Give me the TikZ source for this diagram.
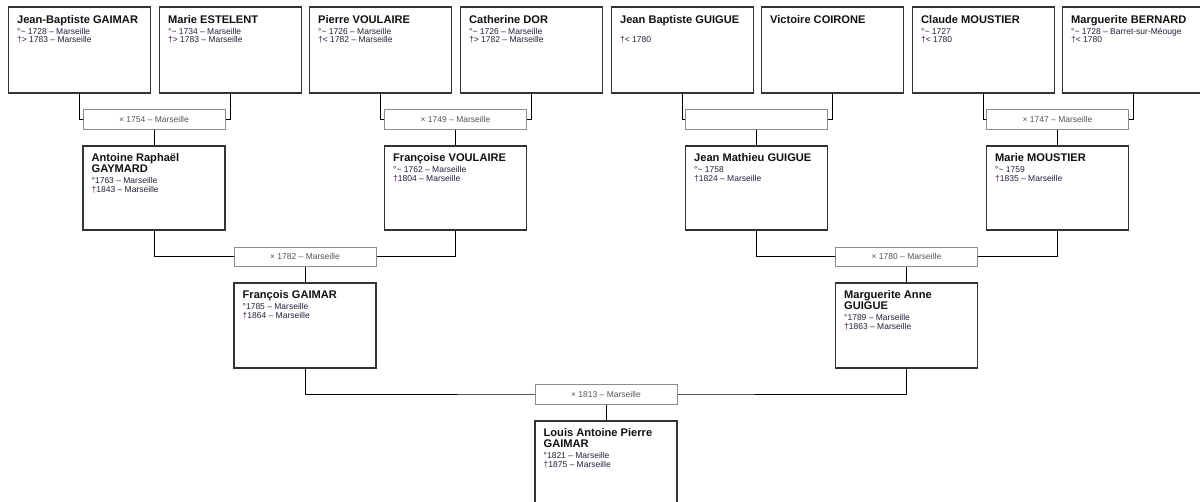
\documentclass[tikz,border=0pt]{standalone}
\usepackage{fontspec}
\setmainfont{Liberation Sans}
\definecolor{boxline}{HTML}{333333}
\definecolor{marline}{HTML}{8C8C8C}
\definecolor{martext}{HTML}{555555}
\definecolor{datetext}{HTML}{22223A}
\definecolor{dagcol}{HTML}{4A1A4A}
\definecolor{nametext}{HTML}{111111}
\newcommand\dg{{\color{dagcol}†}}
\newcommand\ap{\textasciitilde}
\newcommand\nm[1]{{\color{nametext}\fontsize{11.1}{8.5}\selectfont\bfseries #1}}
\tikzset{
 person/.style={draw=boxline, line width=1.1pt, fill=white, minimum width=142pt, minimum height=85pt, inner sep=0pt},
 toprow/.style={person, minimum height=86pt},
 marbox/.style={draw=marline, line width=0.9pt, fill=white, minimum width=142pt, minimum height=20pt, inner sep=0pt, font=\fontsize{8.5}{8.5}\selectfont, text=martext},
 info/.style={anchor=north west, inner sep=0pt, align=left, text=datetext, font=\fontsize{8.5}{8.5}\selectfont},
 link/.style={draw=black, line width=1pt},
}
\begin{document}
\lineskiplimit=-100pt\relax
\lineskip=0pt\relax
\begin{tikzpicture}[x=1pt,y=-1pt]
\useasboundingbox (0,0) rectangle (1200,501);
\fill[white] (0,0) rectangle (1200,501);
% generation 1
\node[toprow] (p1) at (79.5,50) {};
\node[toprow] (p2) at (230.5,50) {};
\node[toprow] (p3) at (380.5,50) {};
\node[toprow] (p4) at (531.5,50) {};
\node[toprow] (p5) at (682.5,50) {};
\node[toprow] (p6) at (832.5,50) {};
\node[toprow] (p7) at (983.5,50) {};
\node[toprow] (p8) at (1133.5,50) {};
% generation 2
\node[person, minimum height=84pt] (q1) at (154,188) {};
\node[person, minimum height=84pt] (q2) at (455.5,188) {};
\node[person, minimum height=84pt] (q3) at (756.5,188) {};
\node[person, minimum height=84pt] (q4) at (1057.5,188) {};
% generation 3
\node[person] (r1) at (305,325.5) {};
\node[person] (r2) at (906.5,325.5) {};
% generation 4
\node[person] (s1) at (606,463.5) {};
% marriage centres
\coordinate (c1) at (154,119);
\coordinate (c2) at (455.5,119);
\coordinate (c3) at (756.5,119);
\coordinate (c4) at (1057.5,119);
\coordinate (c5) at (305,256.5);
\coordinate (c6) at (906.5,256.5);
\coordinate (c7) at (606,394);
% connectors
\draw[link] (p1.south) |- (c1) -| (p2.south);
\draw[link] (p3.south) |- (c2) -| (p4.south);
\draw[link] (p5.south) |- (c3) -| (p6.south);
\draw[link] (p7.south) |- (c4) -| (p8.south);
\draw[link] (c1) -- (q1.north);
\draw[link] (c2) -- (q2.north);
\draw[link] (c3) -- (q3.north);
\draw[link] (c4) -- (q4.north);
\draw[link] (q1.south) |- (c5) -| (q2.south);
\draw[link] (q3.south) |- (c6) -| (q4.south);
\draw[link] (c5) -- (r1.north);
\draw[link] (c6) -- (r2.north);
\draw[link] (r1.south) |- (c7) -| (r2.south);
\draw[link] (c7) -- (s1.north);
% marriage boxes
\node[marbox] (m1) at (c1) {× 1754 – Marseille};
\node[marbox] (m2) at (c2) {× 1749 – Marseille};
\node[marbox] (m3) at (c3) {};
\node[marbox] (m4) at (c4) {× 1747 – Marseille};
\node[marbox, minimum height=19pt] (m5) at (c5) {× 1782 – Marseille};
\node[marbox, minimum height=19pt] (m6) at (c6) {× 1780 – Marseille};
\node[marbox] (m7) at (c7) {× 1813 – Marseille};
% texts
\node[info] (t1) at ([xshift=9pt,yshift=-8.5pt]p1.north west) {\nm{Jean-Baptiste GAIMAR}\\[2.5pt]°\ap{} 1728 – Marseille\\\dg> 1783 – Marseille};
\node[info] (t2) at ([xshift=9pt,yshift=-8.5pt]p2.north west) {\nm{Marie ESTELENT}\\[2.5pt]°\ap{} 1734 – Marseille\\\dg> 1783 – Marseille};
\node[info] (t3) at ([xshift=9pt,yshift=-8.5pt]p3.north west) {\nm{Pierre VOULAIRE}\\[2.5pt]°\ap{} 1726 – Marseille\\\dg< 1782 – Marseille};
\node[info] (t4) at ([xshift=9pt,yshift=-8.5pt]p4.north west) {\nm{Catherine DOR}\\[2.5pt]°\ap{} 1726 – Marseille\\\dg> 1782 – Marseille};
\node[info] (t5) at ([xshift=9pt,yshift=-8.5pt]p5.north west) {\nm{Jean Baptiste GUIGUE}\\[2.5pt]\mbox{}\\\dg< 1780};
\node[info] (t6) at ([xshift=9pt,yshift=-8.5pt]p6.north west) {\nm{Victoire COIRONE}};
\node[info] (t7) at ([xshift=9pt,yshift=-8.5pt]p7.north west) {\nm{Claude MOUSTIER}\\[2.5pt]°\ap{} 1727\\\dg< 1780};
\node[info] (t8) at ([xshift=9pt,yshift=-8.5pt]p8.north west) {\nm{Marguerite BERNARD}\\[2.5pt]°\ap{} 1728 – Barret-sur-Méouge\\\dg< 1780};
\node[info] (u1) at ([xshift=9pt,yshift=-8pt]q1.north west) {\nm{Antoine Raphaël}\\[2.5pt]\nm{GAYMARD}\\[2.5pt]°1763 – Marseille\\\dg1843 – Marseille};
\node[info] (u2) at ([xshift=9pt,yshift=-8pt]q2.north west) {\nm{Françoise VOULAIRE}\\[2.5pt]°\ap{} 1762 – Marseille\\\dg1804 – Marseille};
\node[info] (u3) at ([xshift=9pt,yshift=-8pt]q3.north west) {\nm{Jean Mathieu GUIGUE}\\[2.5pt]°\ap{} 1758\\\dg1824 – Marseille};
\node[info] (u4) at ([xshift=9pt,yshift=-8pt]q4.north west) {\nm{Marie MOUSTIER}\\[2.5pt]°\ap{} 1759\\\dg1835 – Marseille};
\node[info] (v1) at ([xshift=9pt,yshift=-8pt]r1.north west) {\nm{François GAIMAR}\\[2.5pt]°1785 – Marseille\\\dg1864 – Marseille};
\node[info] (v2) at ([xshift=9pt,yshift=-8pt]r2.north west) {\nm{Marguerite Anne}\\[2.5pt]\nm{GUIGUE}\\[2.5pt]°1789 – Marseille\\\dg1863 – Marseille};
\node[info] (w1) at ([xshift=9pt,yshift=-8pt]s1.north west) {\nm{Louis Antoine Pierre}\\[2.5pt]\nm{GAIMAR}\\[2.5pt]°1821 – Marseille\\\dg1875 – Marseille};
\end{tikzpicture}
\end{document}
